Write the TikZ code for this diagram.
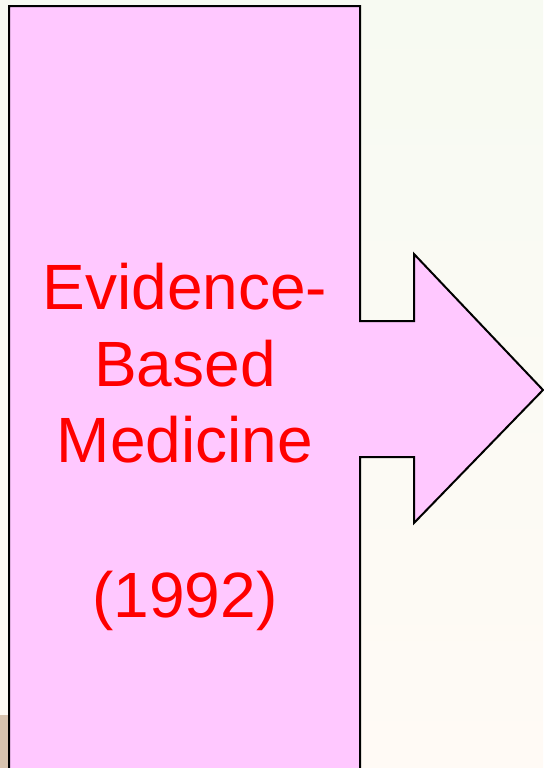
\documentclass[tikz,border=0pt]{standalone}
\usepackage{fontspec}
\setmainfont{Liberation Sans}
\definecolor{panel}{HTML}{FFC8FF}
\definecolor{bgtop}{HTML}{F7FAF2}
\definecolor{bgbot}{HTML}{FFFAF5}
\definecolor{tan}{HTML}{D8C3AF}
\definecolor{labelred}{HTML}{FF0000}
\tikzset{
  outline/.style={draw=black, line width=1.5pt, fill=panel, line join=miter},
  label/.style={text=labelred, font=\fontsize{48}{58}\selectfont, anchor=base, inner sep=0pt}
}
\begin{document}
\begin{tikzpicture}[x=0.75pt,y=-0.75pt]
  % page background
  \shade[top color=bgtop, bottom color=bgbot] (0,0) rectangle (543,768);
  \useasboundingbox (0,0) rectangle (543,768);
  % patch at lower left
  \fill[tan] (0,715) rectangle (9,768);
  % panel with arrow
  \draw[outline] (9,775) -- (9,6) -- (360,6) -- (360,321) -- (414,321)
    -- (414,254) -- (543,390) -- (414,523) -- (414,457) -- (360,457)
    -- (360,775);
  % label, one line per node, placed on baselines
  \node[label] (l1) at (185,309) {Evidence-};
  \node[label] (l2) at (185,386) {Based};
  \node[label] (l3) at (185,462) {Medicine};
  \node[label] (l4) at (185,617) {(1992)};
\end{tikzpicture}
\end{document}
